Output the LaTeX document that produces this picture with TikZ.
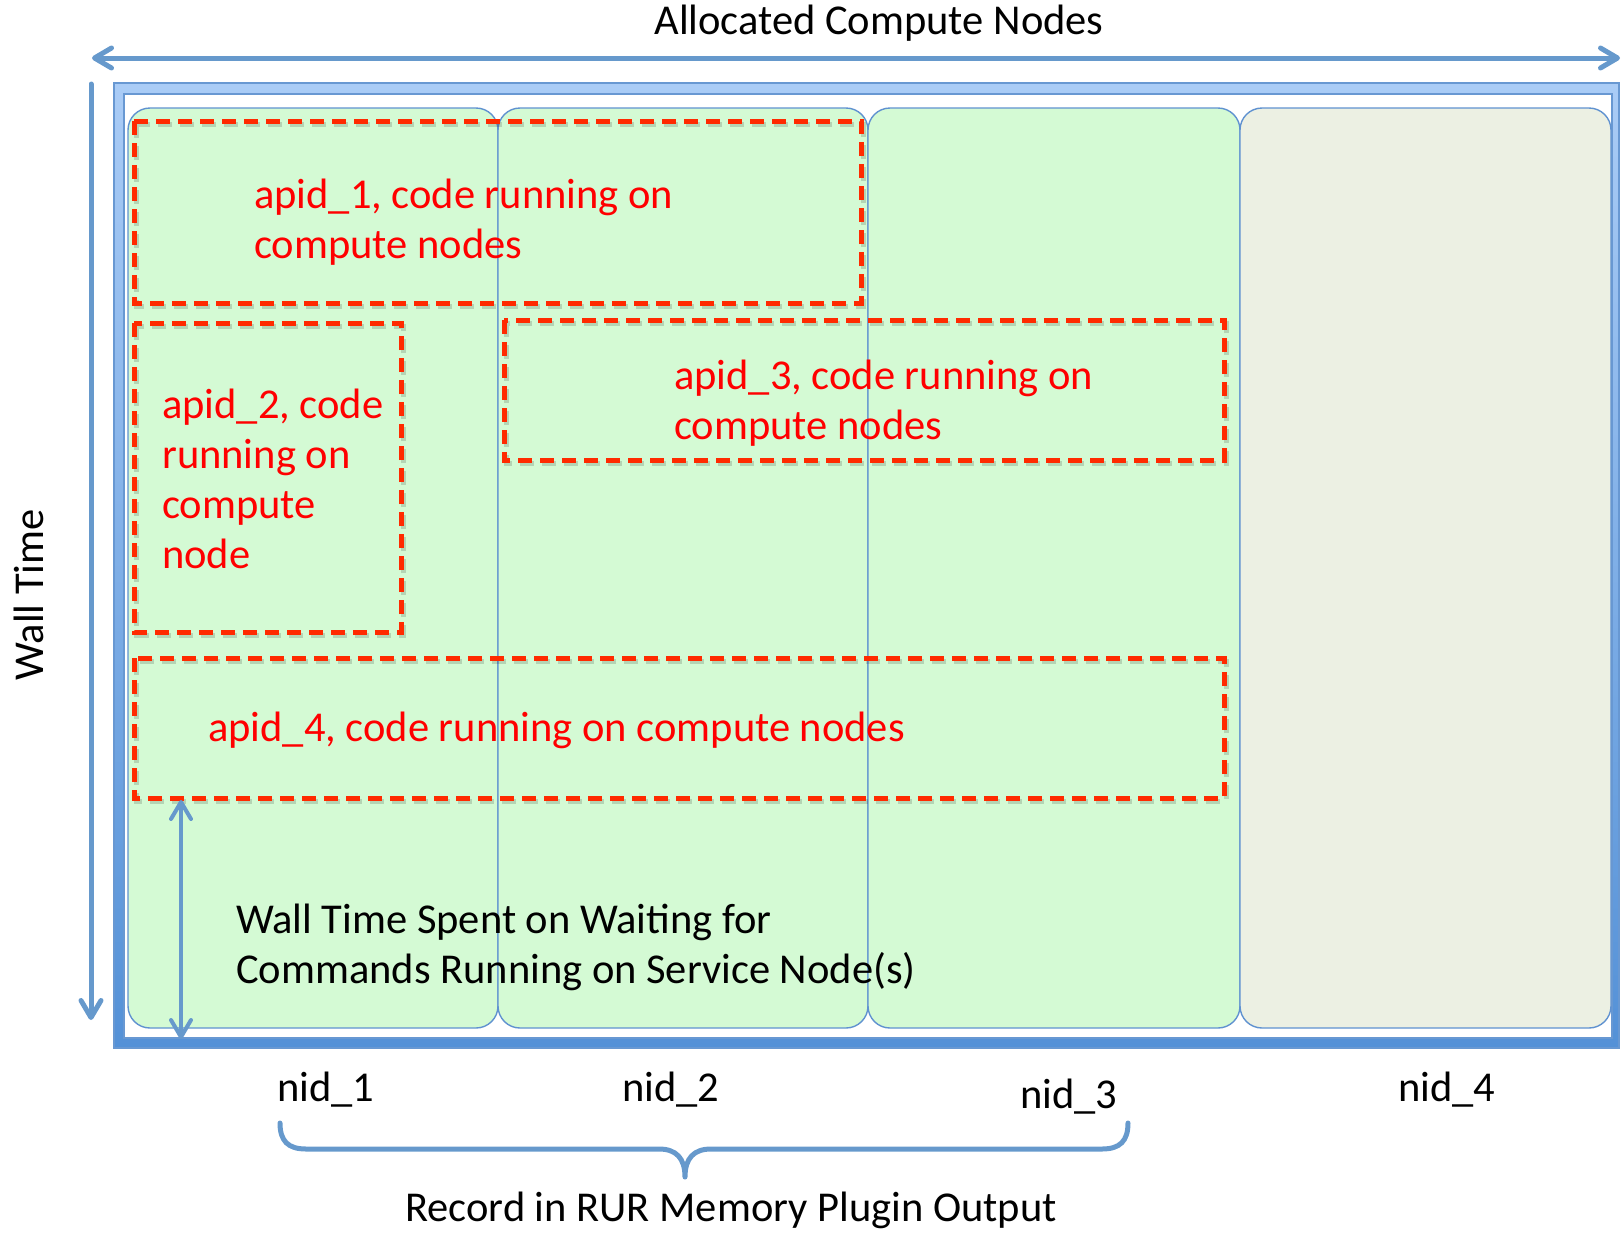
\documentclass[tikz,border=0pt]{standalone}
\usepackage{fontspec}
\setmainfont{Carlito}
\usetikzlibrary{arrows.meta}

\definecolor{panelgreen}{RGB}{212,250,212}
\definecolor{panelgrey}{RGB}{236,240,227}
\definecolor{paneledge}{RGB}{96,146,208}
\definecolor{axisblue}{RGB}{102,153,204}
\definecolor{framelight}{RGB}{170,204,246}
\definecolor{framedark}{RGB}{84,145,215}
\definecolor{frameedge}{RGB}{104,152,210}
\definecolor{dashred}{RGB}{255,42,0}
\definecolor{labelred}{RGB}{255,0,0}

\begin{document}
\begin{tikzpicture}[x=1pt,y=-1pt,
  panel/.style={draw=paneledge, line width=1.4pt, rounded corners=22pt},
  apidbox/.style={draw=dashred, line width=5pt, dash pattern=on 14pt off 8pt},
  apidshadow/.style={draw=black, opacity=0.15, line width=5pt, dash pattern=on 14pt off 8pt},
  redtext/.style={text=labelred, font=\fontsize{42.5}{50}\selectfont, align=left, inner sep=0pt},
  blacktext/.style={text=black, font=\fontsize{42.5}{50}\selectfont, align=left, inner sep=0pt},
  axis/.style={draw=axisblue, line width=5pt, line cap=round},
  >={Straight Barb[length=17pt,width=20pt,line cap=round,line join=round]}
]
\useasboundingbox (0,0) rectangle (1623,1232);

% outer frame of the allocation
\fill[top color=framelight, bottom color=framedark, even odd rule]
  (114,83) rectangle (1619,1048) (124,94) rectangle (1612,1038);
\draw[frameedge, line width=1.2pt] (114,83) rectangle (1619,1048);
\draw[frameedge, line width=1.2pt] (124,94) rectangle (1612,1038);

% one column per compute node
\path[panel, fill=panelgreen] (128,108) rectangle (498,1028);
\path[panel, fill=panelgreen] (498,108) rectangle (868,1028);
\path[panel, fill=panelgreen] (868,108) rectangle (1240,1028);
\path[panel, fill=panelgrey]  (1240,108) rectangle (1611,1028);

% application runs (apids)
\draw[apidshadow] (136,124) rectangle (863,306);
\draw[apidshadow] (136,326) rectangle (403,635);
\draw[apidshadow] (506,323) rectangle (1226,463);
\draw[apidshadow] (136,661) rectangle (1226,801);
\draw[apidbox] (134,121) rectangle (861,303);
\draw[apidbox] (134,323) rectangle (401,632);
\draw[apidbox] (504,320) rectangle (1224,460);
\draw[apidbox] (134,658) rectangle (1224,798);

% multi-line labels: the base anchor sits on the last line
\node[redtext, anchor=base west] (apid1) at (254,258) {apid\_1, code running on\\compute nodes};
\node[redtext, anchor=base west] (apid2) at (162,568) {apid\_2, code\\running on\\compute\\node};
\node[redtext, anchor=base west] (apid3) at (674,439) {apid\_3, code running on\\compute nodes};
\node[redtext, anchor=base west] (apid4) at (208,741) {apid\_4, code running on compute nodes};
\node[blacktext, anchor=base west] (wait) at (236,983) {Wall Time Spent on Waiting for\\Commands Running on Service Node(s)};

% axes
\node[blacktext] (alloc) at (879,23) {Allocated Compute Nodes};
\node[blacktext, rotate=90] (wall) at (29,595) {Wall Time};
\coordinate (allocL) at (92,58);
\coordinate (allocR) at (1620,58);
\draw[axis, <->] (allocL) -- (allocR);
\coordinate (wallT) at (91,84);
\coordinate (wallB) at (91,1020);
\draw[axis, ->] (wallT) -- (wallB);

% waiting interval
\coordinate (waitT) at (181,800);
\coordinate (waitB) at (181,1039);
\draw[axis, <->, line width=4pt] (waitT) -- (waitB);

% node names
\node[blacktext] (nid1) at (326,1090) {nid\_1};
\node[blacktext] (nid2) at (671,1090) {nid\_2};
\node[blacktext] (nid3) at (1069,1097) {nid\_3};
\node[blacktext] (nid4) at (1447,1090) {nid\_4};

% brace over the recorded nodes
\coordinate (braceL) at (280,1123);
\coordinate (braceR) at (1128,1123);
\coordinate (braceT) at (685,1177);
\draw[axis, line join=round]
  (braceL) .. controls (280,1141) and (288,1149) .. (306,1149)
  -- (659,1149) .. controls (676,1149) and (685,1158) .. (braceT)
  .. controls (685,1158) and (694,1149) .. (711,1149)
  -- (1102,1149) .. controls (1120,1149) and (1128,1141) .. (braceR);
\node[blacktext] (record) at (731,1210) {Record in RUR Memory Plugin Output};
\end{tikzpicture}
\end{document}
